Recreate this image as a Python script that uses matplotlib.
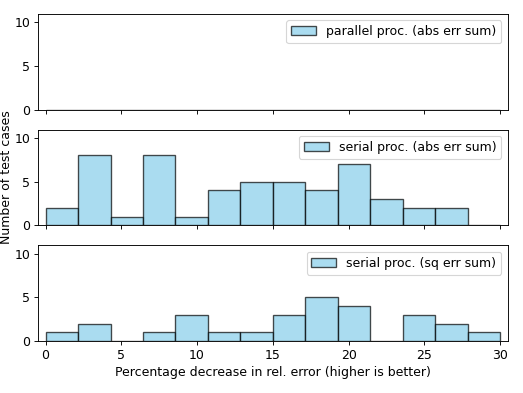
import numpy as np
import matplotlib
matplotlib.use("Agg")
import matplotlib.pyplot as plt

bin_edges = np.linspace(0, 30, 15)
parallel_abs = [0, 0, 0, 0, 0, 0, 0, 0, 0, 0, 0, 0, 0, 0]
serial_abs = [2, 8, 1, 8, 1, 4, 5, 5, 4, 7, 3, 2, 2, 0]
serial_sq = [1, 2, 0, 1, 3, 1, 1, 3, 5, 4, 0, 3, 2, 1]
labels = ["parallel proc. (abs err sum)", "serial proc. (abs err sum)", "serial proc. (sq err sum)"]

plt.rcParams["font.size"] = 11
dpi = 81.7
fig, axes = plt.subplots(3, 1, figsize=(523 / dpi, 393 / dpi), dpi=dpi, sharex=True)
centers = (bin_edges[:-1] + bin_edges[1:]) / 2
for ax, counts, lab in zip(axes, [parallel_abs, serial_abs, serial_sq], labels):
    ax.hist(centers, bins=bin_edges, weights=counts, color="skyblue", edgecolor="black",
            alpha=0.7, linewidth=1.2, label=lab)
    ax.set_ylim(0, 10.95)
    ax.set_yticks([0, 5, 10])
    ax.legend(loc="upper right")
axes[-1].set_xlim(-0.5, 30.5)
axes[-1].set_xticks([0, 5, 10, 15, 20, 25, 30])
axes[-1].set_xlabel("Percentage decrease in rel. error (higher is better)")
axes[1].set_ylabel("Number of test cases")
axes[1].yaxis.set_label_coords(-0.053, 0.5)
fig.subplots_adjust(left=0.0727, right=0.9707, top=0.9644, bottom=0.1323, hspace=0.21)
fig.savefig("out.png", dpi=dpi)
